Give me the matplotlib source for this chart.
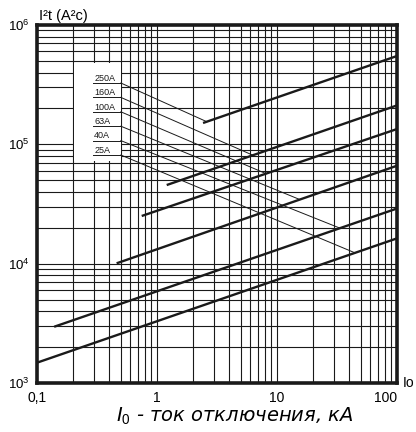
"""Время-токовая характеристика I²t предохранителей: log-log сетка, шесть номиналов."""

import numpy as np
import matplotlib
matplotlib.use("Agg")
import matplotlib.pyplot as plt
from matplotlib.patches import Rectangle
from matplotlib.ticker import FixedLocator, LogLocator, NullFormatter

plt.rcParams["font.family"] = ["Liberation Sans", "DejaVu Sans"]
plt.rcParams["mathtext.fontset"] = "custom"
plt.rcParams["mathtext.rm"] = "Liberation Sans"
plt.rcParams["mathtext.it"] = "DejaVu Sans:italic"

# номиналы и концы прямых (кА, А²с)
RATINGS = ["250A", "160A", "100A", "63A", "40A", "25A"]
I_START = [2.42, 1.205, 0.746, 0.461, 0.139, 0.1]
I_END = [100, 100, 100, 100, 100, 100]
I2T_START = [1.51e5, 4.56e4, 2.51e4, 1.007e4, 2.96e3, 1.48e3]
I2T_END = [5.5e5, 2.12e5, 1.344e5, 6.62e4, 2.9e4, 1.63e4]

# ток, в котором выноска касается своей прямой
LEADER_I = [2.6, 6.3, 8.1, 15.5, 33.5, 44.7]

X_TICKS = [0.1, 1, 10, 100]
X_TICKLABELS = ["0,1", "1", "10", "100"]
Y_TICKS = [1e3, 1e4, 1e5, 1e6]
Y_TICKLABELS = [r"$10^3$", r"$10^4$", r"$10^5$", r"$10^6$"]


def loglin(x, x0, x1, y0, y1):
    t = (np.log10(x) - np.log10(x0)) / (np.log10(x1) - np.log10(x0))
    return 10 ** (np.log10(y0) + t * (np.log10(y1) - np.log10(y0)))


def main():
    fig = plt.figure(figsize=(4.16, 4.32), dpi=100)
    ax = fig.add_axes([0.0889, 0.1134, 0.8654, 0.8287])
    ax.set_xscale("log")
    ax.set_yscale("log")
    ax.set_xlim(0.1, 100)
    ax.set_ylim(1e3, 1e6)

    ax.xaxis.set_major_locator(FixedLocator(X_TICKS))
    ax.set_xticklabels(X_TICKLABELS, fontsize=10)
    ax.yaxis.set_major_locator(FixedLocator(Y_TICKS))
    ax.set_yticklabels(Y_TICKLABELS, fontsize=9.5)
    for axis in (ax.xaxis, ax.yaxis):
        axis.set_minor_locator(LogLocator(base=10, subs=range(2, 10)))
        axis.set_minor_formatter(NullFormatter())
    ax.tick_params(which="both", length=0)
    ax.tick_params(axis="x", pad=6)
    ax.tick_params(axis="y", pad=5)
    ax.get_xticklabels()[-1].set_horizontalalignment("right")

    ax.set_axisbelow(True)
    ax.grid(which="both", color="#1a1a1a", lw=0.8)
    for sp in ax.spines.values():
        sp.set_linewidth(2.6)
        sp.set_color("#1a1a1a")

    # характеристики
    for i0, i1, y0, y1 in zip(I_START, I_END, I2T_START, I2T_END):
        ax.plot([i0, i1], [y0, y1], color="#1a1a1a", lw=1.7,
                solid_capstyle="butt", zorder=4)

    # белая плашка с подписями
    ax.add_patch(Rectangle((0.203, 7.24e4), 0.294, 4.8e5 - 7.24e4,
                           facecolor="white", edgecolor="none", zorder=2))

    for k, name in enumerate(RATINGS):
        uy = 10 ** (5.514 - 0.1207 * k)
        ax.text(0.3, uy * 10 ** 0.04, name, fontsize=6.5, ha="left",
                va="center", color="#1a1a1a", zorder=5)
        ax.plot([0.293, 0.5], [uy, uy], color="#1a1a1a", lw=0.7, zorder=5)
        xe = LEADER_I[k]
        ye = loglin(xe, I_START[k], I_END[k], I2T_START[k], I2T_END[k])
        ax.plot([0.5, xe], [uy, ye], color="#1a1a1a", lw=0.7, zorder=3)

    ax.text(0.005, 1.006, "I²t (A²c)", transform=ax.transAxes, fontsize=10.5,
            ha="left", va="bottom")
    ax.text(1.015, 0.0, "Io", transform=ax.transAxes, fontsize=10,
            ha="left", va="center")
    ax.set_xlabel(r"$I_\mathit{0}$ - ток отключения, кА", fontsize=14,
                  family=["DejaVu Sans"], style="italic", labelpad=0)
    ax.xaxis.label.set_x(0.55)

    fig.savefig("out.png", dpi=100)
    plt.close(fig)


if __name__ == "__main__":
    main()
